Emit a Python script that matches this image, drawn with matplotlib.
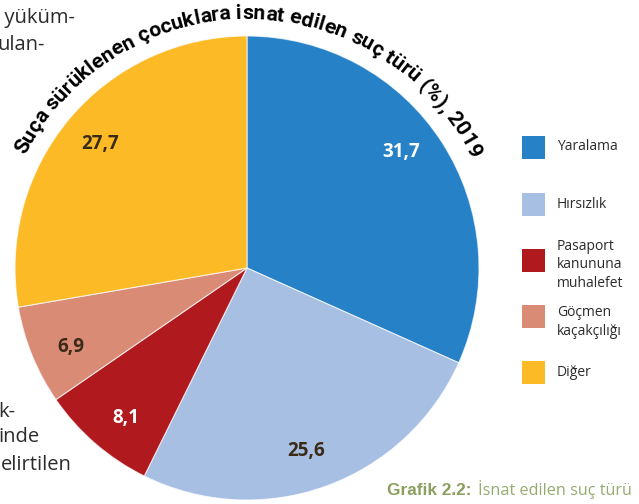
import numpy as np
import matplotlib
matplotlib.use('Agg')
import matplotlib.pyplot as plt
from matplotlib.patches import Rectangle
from matplotlib import font_manager as fm
from matplotlib.ft2font import FT2Font

# veriler
categories = ['Yaralama', 'Hırsızlık', 'Pasaport\nkanununa\nmuhalefet', 'Göçmen\nkaçakçılığı', 'Diğer']
values = [31.7, 25.6, 8.1, 6.9, 27.7]
value_labels = ['31,7', '25,6', '8,1', '6,9', '27,7']
title = 'Suça sürüklenen çocuklara isnat edilen suç türü (%), 2019'
caption_bold = 'Grafik 2.2:'
caption_rest = 'İsnat edilen suç türü'
side_top = ['y yüküm-', 'ulan-']
side_bottom = ['k-', 'inde', 'elirtilen']

colors = ['#2681c6', '#a6bfe3', '#b0191d', '#d98b76', '#fbba26']
label_colors = ['white', '#3b2a17', 'white', '#3b2a17', '#3b2a17']
label_shift = [4, -2, 2, 2, 0]  # derece
FONT = ['Open Sans', 'DejaVu Sans']
TITLE_FONT = 'Roboto'

W, H = 639, 504
DPI = 100
fig = plt.figure(figsize=(W / DPI, H / DPI), dpi=DPI)
ax = fig.add_axes([0, 0, 1, 1])

def Y(y):
    return H - y

cx, cy, r = 247, Y(268), 232
wedges, _ = ax.pie(values, center=(cx, cy), radius=r, startangle=90, counterclock=False,
                   colors=colors, wedgeprops=dict(edgecolor=(1, 1, 1, 0.7), linewidth=0.8))
ax.set_xlim(0, W)
ax.set_ylim(0, H)
ax.axis('off')

for w, lab, c, sh in zip(wedges, value_labels, label_colors, label_shift):
    a = np.deg2rad((w.theta1 + w.theta2) / 2 + sh)
    ax.text(cx + 0.83 * r * np.cos(a), cy + 0.83 * r * np.sin(a), lab, color=c,
            fontsize=13.5, fontweight='bold', family=FONT, ha='center', va='center')

# kavisli başlık: harf ilerlemeleri doğrudan fonttan
def advances(s, family, weight, fs):
    path = fm.findfont(fm.FontProperties(family=family, weight=weight))
    f = FT2Font(path)
    f.set_size(fs, DPI)
    return [f.load_char(ord(ch)).linearHoriAdvance / 65536 for ch in s]

R = 249
a_start, a_end = 153, 26
target = np.deg2rad(a_start - a_end) * R
fs = 10 * target / sum(advances(title, TITLE_FONT, 'bold', 10))
cw = advances(title, TITLE_FONT, 'bold', fs)
total = sum(cw)
a_mid = np.deg2rad((a_start + a_end) / 2)
s = 0
for ch, wd in zip(title, cw):
    th = a_mid + (total / 2 - (s + wd / 2)) / R
    if ch != ' ':
        ax.text(cx + R * np.cos(th), cy + R * np.sin(th), ch, fontsize=fs, fontweight='bold',
                family=TITLE_FONT, rotation=np.rad2deg(th) - 90, rotation_mode='anchor',
                ha='center', va='baseline', color='black')
    s += wd

# lejant
leg_y = [147.5, 204.5, 260.5, 316.5, 372.5]
leg_text_y = [147, 204, 265, 322, 372]
for cat, col, yy, ty in zip(categories, colors, leg_y, leg_text_y):
    ax.add_patch(Rectangle((522, Y(yy) - 11.5), 23, 23, facecolor=col, edgecolor='none'))
    ax.text(557, Y(ty), cat, fontsize=10, family=FONT, color='#2b2b2b',
            ha='left', va='center', linespacing=1.35)

# kenardaki metin parçaları
for txt, xr, yy in zip(side_top, [75, 45], [18, 45]):
    ax.text(xr, Y(yy), txt, fontsize=14.5, family=FONT, color='#2b2b2b', ha='right', va='center')
for txt, xr, yy in zip(side_bottom, [15, 40, 72], [412, 437, 465]):
    ax.text(xr, Y(yy), txt, fontsize=14.5, family=FONT, color='#2b2b2b', ha='right', va='center')

# alt yazı
ax.text(387, Y(495), caption_bold, fontsize=12.4, fontweight='bold',
        family=['Liberation Sans', 'DejaVu Sans'], color='#8ba05e', ha='left', va='baseline')
cap_fs = 10 * 154 / sum(advances(caption_rest, 'Open Sans', 'normal', 10))
ax.text(632, Y(495), caption_rest, fontsize=cap_fs, family=FONT,
        color='#97ab70', ha='right', va='baseline')

fig.savefig('out.png', dpi=DPI)
